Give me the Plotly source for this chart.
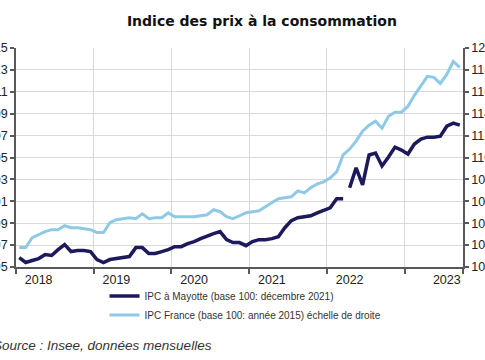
import plotly.graph_objects as go

# Monthly index: 0 = Oct 2017 ... 68 = Jun 2023
months = list(range(69))

# IPC Mayotte (left axis)
mayotte = [95.86, 95.41, 95.59, 95.77, 96.14, 96.05, 96.59, 97.05, 96.41, 96.50,
           96.50, 96.41, 95.68, 95.41, 95.68, 95.77, 95.86, 95.95, 96.77, 96.77,
           96.23, 96.23, 96.41, 96.59, 96.86, 96.86, 97.14, 97.32, 97.59, 97.86,
           98.05, 98.23, 97.50, 97.23, 97.23, 96.95, 97.32, 97.50, 97.50, 97.59,
           97.77, 98.59, 99.23, 99.50, 99.59, 99.68, 99.95, 100.14, 100.41, 101.23,
           101.23, 102.23, 104.05, 102.50, 105.23, 105.41, 104.23, 105.05, 105.95, 105.68,
           105.32, 106.23, 106.68, 106.86, 106.86, 106.95, 107.86, 108.14, 107.95]

# IPC France (right axis)
france = [101.77, 101.77, 102.68, 102.95, 103.23, 103.41, 103.41, 103.77, 103.59, 103.59,
          103.50, 103.41, 103.14, 103.14, 104.05, 104.32, 104.41, 104.50, 104.41, 104.86,
          104.41, 104.50, 104.50, 104.95, 104.59, 104.59, 104.59, 104.59, 104.68, 104.77,
          105.23, 105.05, 104.59, 104.41, 104.68, 104.95, 105.05, 105.14, 105.50, 105.86,
          106.23, 106.32, 106.41, 106.95, 106.77, 107.23, 107.59, 107.77, 108.14, 108.68,
          110.23, 110.77, 111.50, 112.41, 112.95, 113.32, 112.68, 113.77, 114.14, 114.14,
          114.68, 115.68, 116.59, 117.41, 117.32, 116.77, 117.59, 118.77, 118.23]

# base change between Dec 2021 (index 50) and Jan 2022 (index 51)
break_after = 50

year_labels = ["2018", "2019", "2020", "2021", "2022", "2023"]
year_label_pos = [3, 15, 27, 39, 51, 66]
year_bounds = [-0.5, 11.5, 23.5, 35.5, 47.5, 59.5, 68.5]

left_ticks = [95, 97, 99, 101, 103, 105, 107, 109, 111, 113, 115]
right_ticks = [100, 102, 104, 106, 108, 110, 112, 114, 116, 118, 120]

# split Mayotte series at the base change (gap)
mx = months[:break_after + 1] + [break_after + 0.5] + months[break_after + 1:]
my = mayotte[:break_after + 1] + [None] + mayotte[break_after + 1:]

DARK = "#1c1a5c"
LIGHT = "#8ecae6"
GRID = "#d9d9d9"
AXIS = "#595959"
FONT = "Liberation Sans"

fig = go.Figure()
fig.add_trace(go.Scatter(x=mx, y=my, mode="lines", connectgaps=False,
                         name="IPC à Mayotte (base 100: décembre 2021)",
                         line=dict(color=DARK, width=3.5), yaxis="y"))
fig.add_trace(go.Scatter(x=months, y=france, mode="lines",
                         name="IPC France (base 100: année 2015) échelle de droite",
                         line=dict(color=LIGHT, width=3), yaxis="y2"))

fig.update_layout(
    width=485, height=360,
    margin=dict(l=16, r=22, t=47.5, b=92.5, autoexpand=False),
    paper_bgcolor="white", plot_bgcolor="white",
    font=dict(family=FONT, color="#222222", size=12),
    showlegend=True,
    legend=dict(x=0.198, y=-0.066, xanchor="left", yanchor="top",
                font=dict(family=FONT, size=10, color="#333333"),
                bgcolor="rgba(0,0,0,0)", tracegroupgap=0),
    title=dict(text="<b>Indice des prix à la consommation</b>",
               x=0.540, xanchor="center", y=0.941, yanchor="middle",
               font=dict(family="DejaVu Sans", size=14, color="#111111")),
    xaxis=dict(range=[-0.5, 68.5], tickmode="array", tickvals=year_label_pos,
               ticktext=year_labels, ticks="", showgrid=False, zeroline=False,
               automargin=False,
               showline=True, linecolor=AXIS, linewidth=1.5,
               tickfont=dict(family=FONT, size=12.5, color="#222222"),
               minor=dict(tickmode="array", tickvals=year_bounds, ticks="outside",
                          ticklen=5, tickcolor=AXIS, tickwidth=1.5,
                          showgrid=True, gridcolor=GRID, gridwidth=1.3)),
    yaxis=dict(range=[95, 115], tickmode="array", tickvals=left_ticks,
               ticks="outside", ticklen=4, tickcolor=AXIS, tickwidth=1.5,
               showline=True, linecolor=AXIS, linewidth=1.5, automargin=False,
               showgrid=True, gridcolor=GRID, gridwidth=1.3, zeroline=False,
               tickfont=dict(family=FONT, size=12.5, color="#222222")),
    yaxis2=dict(range=[100, 120], tickmode="array", tickvals=right_ticks,
                overlaying="y", side="right", automargin=False,
                ticks="outside", ticklen=4, tickcolor=AXIS, tickwidth=1.5,
                showline=True, linecolor=AXIS, linewidth=1.5,
                showgrid=False, zeroline=False,
                tickfont=dict(family=FONT, size=12.5, color="#222222")),
    annotations=[dict(text="<i>Source : Insee, données mensuelles</i>",
                      xref="paper", yref="paper", x=-0.055, y=-0.357,
                      xanchor="left", yanchor="middle", showarrow=False,
                      font=dict(family=FONT, size=13.5, color="#333333"))],
)

# remove the default page margin so the figure sits at the window's top-left corner
fig.write_html("out.html", config={"displayModeBar": False},
               post_script="document.body.style.margin='0px';")
